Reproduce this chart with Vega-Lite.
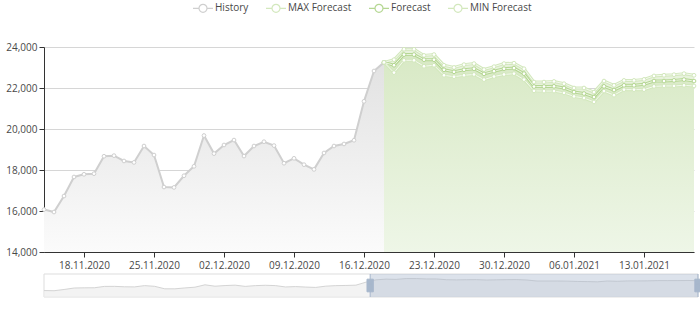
{
  "$schema": "https://vega.github.io/schema/vega-lite/v6.json",
  "padding": {"left": 5, "top": 2, "right": 2, "bottom": 2},
  "bounds": "flush",
  "spacing": 22,
  "background": "white",
  "config": {
    "view": {"stroke": null},
    "font": "Open Sans",
    "axis": {
      "labelFont": "Open Sans",
      "labelFontSize": 10,
      "labelColor": "#484848",
      "domainColor": "#333333",
      "tickColor": "#333333",
      "tickSize": 5,
      "title": null,
      "gridColor": "#d6d6d6"
    },
    "legend": {"labelFont": "Open Sans", "labelFontSize": 10, "labelColor": "#484848"}
  },
  "datasets": {
    "history": [
      {"date": "2020-11-14", "History": 16070},
      {"date": "2020-11-15", "History": 15950},
      {"date": "2020-11-16", "History": 16730},
      {"date": "2020-11-17", "History": 17660},
      {"date": "2020-11-18", "History": 17790},
      {"date": "2020-11-19", "History": 17820},
      {"date": "2020-11-20", "History": 18670},
      {"date": "2020-11-21", "History": 18700},
      {"date": "2020-11-22", "History": 18440},
      {"date": "2020-11-23", "History": 18370},
      {"date": "2020-11-24", "History": 19170},
      {"date": "2020-11-25", "History": 18730},
      {"date": "2020-11-26", "History": 17170},
      {"date": "2020-11-27", "History": 17150},
      {"date": "2020-11-28", "History": 17720},
      {"date": "2020-11-29", "History": 18180},
      {"date": "2020-11-30", "History": 19680},
      {"date": "2020-12-01", "History": 18800},
      {"date": "2020-12-02", "History": 19220},
      {"date": "2020-12-03", "History": 19460},
      {"date": "2020-12-04", "History": 18680},
      {"date": "2020-12-05", "History": 19170},
      {"date": "2020-12-06", "History": 19380},
      {"date": "2020-12-07", "History": 19190},
      {"date": "2020-12-08", "History": 18330},
      {"date": "2020-12-09", "History": 18570},
      {"date": "2020-12-10", "History": 18260},
      {"date": "2020-12-11", "History": 18030},
      {"date": "2020-12-12", "History": 18830},
      {"date": "2020-12-13", "History": 19170},
      {"date": "2020-12-14", "History": 19270},
      {"date": "2020-12-15", "History": 19450},
      {"date": "2020-12-16", "History": 21350},
      {"date": "2020-12-17", "History": 22830},
      {"date": "2020-12-18", "History": 23250}
    ],
    "forecast": [
      {"date": "2020-12-18", "MAX Forecast": 23250, "Forecast": 23250, "MIN Forecast": 23250},
      {"date": "2020-12-19", "MAX Forecast": 23380, "Forecast": 23110, "MIN Forecast": 22750},
      {"date": "2020-12-20", "MAX Forecast": 23890, "Forecast": 23630, "MIN Forecast": 23350},
      {"date": "2020-12-21", "MAX Forecast": 23890, "Forecast": 23630, "MIN Forecast": 23350},
      {"date": "2020-12-22", "MAX Forecast": 23590, "Forecast": 23380, "MIN Forecast": 23060},
      {"date": "2020-12-23", "MAX Forecast": 23630, "Forecast": 23380, "MIN Forecast": 23110},
      {"date": "2020-12-24", "MAX Forecast": 23110, "Forecast": 22890, "MIN Forecast": 22620},
      {"date": "2020-12-25", "MAX Forecast": 23000, "Forecast": 22790, "MIN Forecast": 22550},
      {"date": "2020-12-26", "MAX Forecast": 23140, "Forecast": 22890, "MIN Forecast": 22620},
      {"date": "2020-12-27", "MAX Forecast": 23190, "Forecast": 22940, "MIN Forecast": 22660},
      {"date": "2020-12-28", "MAX Forecast": 22900, "Forecast": 22690, "MIN Forecast": 22410},
      {"date": "2020-12-29", "MAX Forecast": 23040, "Forecast": 22820, "MIN Forecast": 22560},
      {"date": "2020-12-30", "MAX Forecast": 23190, "Forecast": 22940, "MIN Forecast": 22660},
      {"date": "2020-12-31", "MAX Forecast": 23210, "Forecast": 22970, "MIN Forecast": 22700},
      {"date": "2021-01-01", "MAX Forecast": 22940, "Forecast": 22700, "MIN Forecast": 22410},
      {"date": "2021-01-02", "MAX Forecast": 22290, "Forecast": 22070, "MIN Forecast": 21860},
      {"date": "2021-01-03", "MAX Forecast": 22290, "Forecast": 22070, "MIN Forecast": 21850},
      {"date": "2021-01-04", "MAX Forecast": 22320, "Forecast": 22080, "MIN Forecast": 21850},
      {"date": "2021-01-05", "MAX Forecast": 22210, "Forecast": 22000, "MIN Forecast": 21760},
      {"date": "2021-01-06", "MAX Forecast": 22000, "Forecast": 21800, "MIN Forecast": 21590},
      {"date": "2021-01-07", "MAX Forecast": 22000, "Forecast": 21730, "MIN Forecast": 21510},
      {"date": "2021-01-08", "MAX Forecast": 21800, "Forecast": 21560, "MIN Forecast": 21320},
      {"date": "2021-01-09", "MAX Forecast": 22340, "Forecast": 22080, "MIN Forecast": 21850},
      {"date": "2021-01-10", "MAX Forecast": 22130, "Forecast": 21900, "MIN Forecast": 21650},
      {"date": "2021-01-11", "MAX Forecast": 22370, "Forecast": 22130, "MIN Forecast": 21920},
      {"date": "2021-01-12", "MAX Forecast": 22370, "Forecast": 22130, "MIN Forecast": 21920},
      {"date": "2021-01-13", "MAX Forecast": 22420, "Forecast": 22180, "MIN Forecast": 21920},
      {"date": "2021-01-14", "MAX Forecast": 22590, "Forecast": 22340, "MIN Forecast": 22080},
      {"date": "2021-01-15", "MAX Forecast": 22620, "Forecast": 22340, "MIN Forecast": 22100},
      {"date": "2021-01-16", "MAX Forecast": 22650, "Forecast": 22370, "MIN Forecast": 22100},
      {"date": "2021-01-17", "MAX Forecast": 22700, "Forecast": 22410, "MIN Forecast": 22130},
      {"date": "2021-01-18", "MAX Forecast": 22620, "Forecast": 22340, "MIN Forecast": 22100}
    ],
    "zoom": [
      {"from": "2020-11-14", "to": "2021-01-18", "part": "track"},
      {"from": "2020-12-16T10:00:00Z", "to": "2021-01-18", "part": "window"}
    ]
  },
  "resolve": {"scale": {"x": "independent", "y": "independent"}},
  "vconcat": [
    {
      "width": 650,
      "height": 205,
      "layer": [
        {
          "data": {"name": "history"},
          "mark": {
            "type": "area",
            "color": {
              "gradient": "linear", "x1": 0, "y1": 0, "x2": 0, "y2": 1,
              "stops": [{"offset": 0, "color": "#e2e2e2"}, {"offset": 1, "color": "#fbfbfb"}]
            }
          },
          "encoding": {
            "x": {
              "field": "date", "type": "temporal",
              "scale": {"type": "utc", "domain": [
                {"year": 2020, "month": 11, "date": 14, "utc": true},
                {"year": 2021, "month": 1, "date": 18, "utc": true}
              ]},
              "axis": {
                "format": "%d.%m.%Y", "labelPadding": 3, "grid": false,
                "values": [
                  {"year": 2020, "month": 11, "date": 18, "utc": true},
                  {"year": 2020, "month": 11, "date": 25, "utc": true},
                  {"year": 2020, "month": 12, "date": 2, "utc": true},
                  {"year": 2020, "month": 12, "date": 9, "utc": true},
                  {"year": 2020, "month": 12, "date": 16, "utc": true},
                  {"year": 2020, "month": 12, "date": 23, "utc": true},
                  {"year": 2020, "month": 12, "date": 30, "utc": true},
                  {"year": 2021, "month": 1, "date": 6, "utc": true},
                  {"year": 2021, "month": 1, "date": 13, "utc": true}
                ]
              }
            },
            "y": {
              "field": "History", "type": "quantitative",
              "scale": {"domain": [14000, 24000], "nice": false, "zero": false},
              "axis": {"values": [14000, 16000, 18000, 20000, 22000, 24000], "format": ",d", "grid": true, "labelPadding": 2}
            },
            "y2": {"datum": 14000}
          }
        },
        {
          "data": {"name": "forecast"},
          "mark": {"type": "area", "color": "#e8f2dd"},
          "encoding": {
            "x": {"field": "date", "type": "temporal"},
            "y": {"field": "MAX Forecast", "type": "quantitative"},
            "y2": {"datum": 14000}
          }
        },
        {
          "data": {"name": "forecast"},
          "mark": {
            "type": "area",
            "color": {
              "gradient": "linear", "x1": 0, "y1": 0, "x2": 0, "y2": 1,
              "stops": [{"offset": 0, "color": "#d8e9c5"}, {"offset": 1, "color": "#eef6e7"}]
            }
          },
          "encoding": {
            "x": {"field": "date", "type": "temporal"},
            "y": {"field": "Forecast", "type": "quantitative"},
            "y2": {"datum": 14000}
          }
        },
        {
          "data": {"name": "history"},
          "transform": [{"fold": ["History"], "as": ["series", "value"]}],
          "mark": {"type": "line", "strokeWidth": 2},
          "encoding": {
            "x": {"field": "date", "type": "temporal"},
            "y": {"field": "value", "type": "quantitative"},
            "color": {
              "field": "series", "type": "nominal",
              "scale": {
                "domain": ["History", "MAX Forecast", "Forecast", "MIN Forecast"],
                "range": ["#cfcfcf", "#d3e8bd", "#b5d793", "#d3e8bd"]
              },
              "legend": {
                "orient": "none", "direction": "horizontal",
                "legendX": 153, "legendY": -45,
                "title": null,
                "symbolType": "M-2,0H-0.8M0.8,0H2M0.8,0A0.8,0.8,0,1,1,-0.8,0A0.8,0.8,0,1,1,0.8,0Z",
                "symbolSize": 100,
                "symbolStrokeWidth": 1.2,
                "symbolFillColor": "white",
                "labelOffset": 6,
                "columnPadding": 14
              }
            }
          }
        },
        {
          "data": {"name": "forecast"},
          "transform": [{"fold": ["MAX Forecast", "Forecast", "MIN Forecast"], "as": ["series", "value"]}],
          "mark": {"type": "line", "strokeWidth": 3},
          "encoding": {
            "x": {"field": "date", "type": "temporal"},
            "y": {"field": "value", "type": "quantitative"},
            "color": {"field": "series", "type": "nominal"}
          }
        },
        {
          "data": {"name": "forecast"},
          "transform": [{"fold": ["MAX Forecast", "Forecast", "MIN Forecast"], "as": ["series", "value"]}],
          "mark": {"type": "line", "strokeWidth": 1, "color": "white", "opacity": 0.75},
          "encoding": {
            "x": {"field": "date", "type": "temporal"},
            "y": {"field": "value", "type": "quantitative"},
            "detail": {"field": "series", "type": "nominal"}
          }
        },
        {
          "data": {"name": "history"},
          "transform": [{"fold": ["History"], "as": ["series", "value"]}],
          "mark": {"type": "point", "filled": true, "fill": "white", "size": 14, "strokeWidth": 1, "opacity": 1},
          "encoding": {
            "x": {"field": "date", "type": "temporal"},
            "y": {"field": "value", "type": "quantitative"},
            "stroke": {
              "field": "series", "type": "nominal", "legend": null,
              "scale": {
                "domain": ["History", "MAX Forecast", "Forecast", "MIN Forecast"],
                "range": ["#cfcfcf", "#d3e8bd", "#b5d793", "#d3e8bd"]
              }
            }
          }
        },
        {
          "data": {"name": "forecast"},
          "transform": [{"fold": ["MAX Forecast", "Forecast", "MIN Forecast"], "as": ["series", "value"]}],
          "mark": {"type": "point", "filled": true, "fill": "white", "size": 14, "strokeWidth": 1, "opacity": 1},
          "encoding": {
            "x": {"field": "date", "type": "temporal"},
            "y": {"field": "value", "type": "quantitative"},
            "stroke": {"field": "series", "type": "nominal", "legend": null}
          }
        }
      ]
    },
    {
      "width": 654,
      "height": 23,
      "layer": [
        {
          "data": {"name": "zoom"},
          "transform": [{"filter": "datum.part === 'track'"}],
          "mark": {"type": "rect", "fill": "white", "stroke": "#dddddd", "strokeWidth": 1},
          "encoding": {
            "x": {
              "field": "from", "type": "temporal", "axis": null,
              "scale": {"type": "utc", "domain": [
                {"year": 2020, "month": 11, "date": 14, "utc": true},
                {"year": 2021, "month": 1, "date": 18, "utc": true}
              ]}
            },
            "x2": {"field": "to"}
          }
        },
        {
          "data": {"name": "history"},
          "mark": {"type": "area", "color": "#eeeeee", "line": {"color": "#d4d4d4", "strokeWidth": 1}},
          "encoding": {
            "x": {"field": "date", "type": "temporal"},
            "y": {"field": "History", "type": "quantitative", "axis": null, "scale": {"domain": [12000, 26500], "nice": false, "zero": false}},
            "y2": {"datum": 12000}
          }
        },
        {
          "data": {"name": "forecast"},
          "mark": {"type": "area", "color": "#eeeeee", "line": {"color": "#d4d4d4", "strokeWidth": 1}},
          "encoding": {
            "x": {"field": "date", "type": "temporal"},
            "y": {"field": "Forecast", "type": "quantitative"},
            "y2": {"datum": 12000}
          }
        },
        {
          "data": {"name": "zoom"},
          "transform": [{"filter": "datum.part === 'window'"}],
          "mark": {"type": "rect", "fill": "#a7b7cc", "opacity": 0.4},
          "encoding": {
            "x": {"field": "from", "type": "temporal"},
            "x2": {"field": "to"}
          }
        },
        {
          "data": {"name": "zoom"},
          "transform": [
            {"filter": "datum.part === 'window'"},
            {"fold": ["from", "to"], "as": ["edge", "at"]}
          ],
          "mark": {"type": "rule", "color": "#a7b7cc", "strokeWidth": 1},
          "encoding": {
            "x": {"field": "at", "type": "temporal"}
          }
        },
        {
          "data": {"name": "zoom"},
          "transform": [
            {"filter": "datum.part === 'window'"},
            {"fold": ["from", "to"], "as": ["edge", "at"]}
          ],
          "mark": {
            "type": "point", "filled": true, "color": "#a7b7cc", "opacity": 1,
            "shape": "M-0.5,-1H0.5V1H-0.5Z M-0.25,-0.3H0.25 M-0.25,0H0.25 M-0.25,0.3H0.25",
            "size": 160, "stroke": "#a7b7cc", "strokeWidth": 1
          },
          "encoding": {
            "x": {"field": "at", "type": "temporal"}
          }
        }
      ]
    }
  ]
}
